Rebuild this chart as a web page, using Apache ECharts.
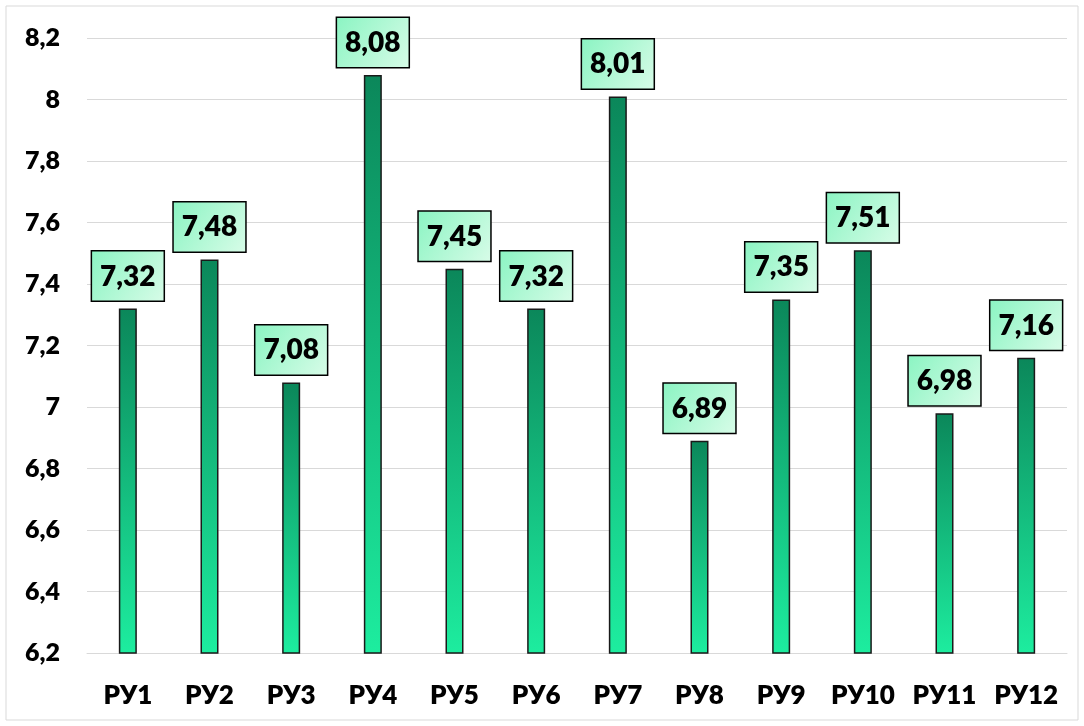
<!DOCTYPE html>
<html>
<head>
<meta charset="utf-8">
<script src="https://cdn.jsdelivr.net/npm/echarts@6/dist/echarts.min.js"></script>
<style>
  html, body { margin: 0; padding: 0; background: #fff; }
  #chart { width: 1084px; height: 726px; }
</style>
</head>
<body>
<div id="chart"></div>
<script>
// Categories and values
const categories = ['РУ1', 'РУ2', 'РУ3', 'РУ4', 'РУ5', 'РУ6', 'РУ7', 'РУ8', 'РУ9', 'РУ10', 'РУ11', 'РУ12'];
const values = [7.32, 7.48, 7.08, 8.08, 7.45, 7.32, 8.01, 6.89, 7.35, 7.51, 6.98, 7.16];
const yMin = 6.2;
const yMax = 8.2;
const yStep = 0.2;

const FONT = 'Lato, "Noto Sans", sans-serif';
const WEIGHT = 800;
const comma = v => String(v).replace('.', ',');

const chart = echarts.init(document.getElementById('chart'), null, { renderer: 'canvas' });

chart.setOption({
  backgroundColor: '#ffffff',
  animation: false,
  graphic: [{
    type: 'rect',
    shape: { x: 6, y: 6, width: 1072, height: 714 },
    style: { fill: 'none', stroke: '#d9d9d9', lineWidth: 1 },
    silent: true
  }],
  grid: { left: 87, right: 17, top: 38, bottom: 73, containLabel: false },
  xAxis: {
    type: 'category',
    data: categories,
    axisTick: { show: false },
    axisLine: { lineStyle: { color: '#d9d9d9', width: 1 } },
    axisLabel: {
      interval: 0,
      color: '#000', fontFamily: FONT, fontWeight: WEIGHT, fontSize: 26, margin: 30
    }
  },
  yAxis: {
    type: 'value',
    min: yMin,
    max: yMax,
    interval: yStep,
    axisLine: { show: false },
    axisTick: { show: false },
    splitLine: { lineStyle: { color: '#d9d9d9', width: 1 } },
    axisLabel: {
      color: '#000', fontFamily: FONT, fontWeight: WEIGHT, fontSize: 25, margin: 27,
      formatter: v => comma(+v.toFixed(1))
    }
  },
  series: [{
    type: 'bar',
    data: values,
    barWidth: 18,
    itemStyle: {
      color: new echarts.graphic.LinearGradient(0, 0, 0, 1, [
        { offset: 0, color: '#0b875a' },
        { offset: 1, color: '#1ded9f' }
      ]),
      borderColor: '#1a1a1a',
      borderWidth: 1.5
    },
    label: {
      show: true,
      position: 'top',
      distance: 8,
      formatter: p => comma(p.value.toFixed(2)),
      color: '#000',
      fontFamily: FONT,
      fontWeight: WEIGHT,
      fontSize: 28,
      lineHeight: 30,
      padding: [10, 8, 9, 8],
      borderColor: '#000',
      borderWidth: 1.5,
      backgroundColor: new echarts.graphic.LinearGradient(0, 0, 1, 1, [
        { offset: 0, color: '#8af4c2' },
        { offset: 1, color: '#d8fce8' }
      ])
    }
  }]
});
</script>
</body>
</html>
